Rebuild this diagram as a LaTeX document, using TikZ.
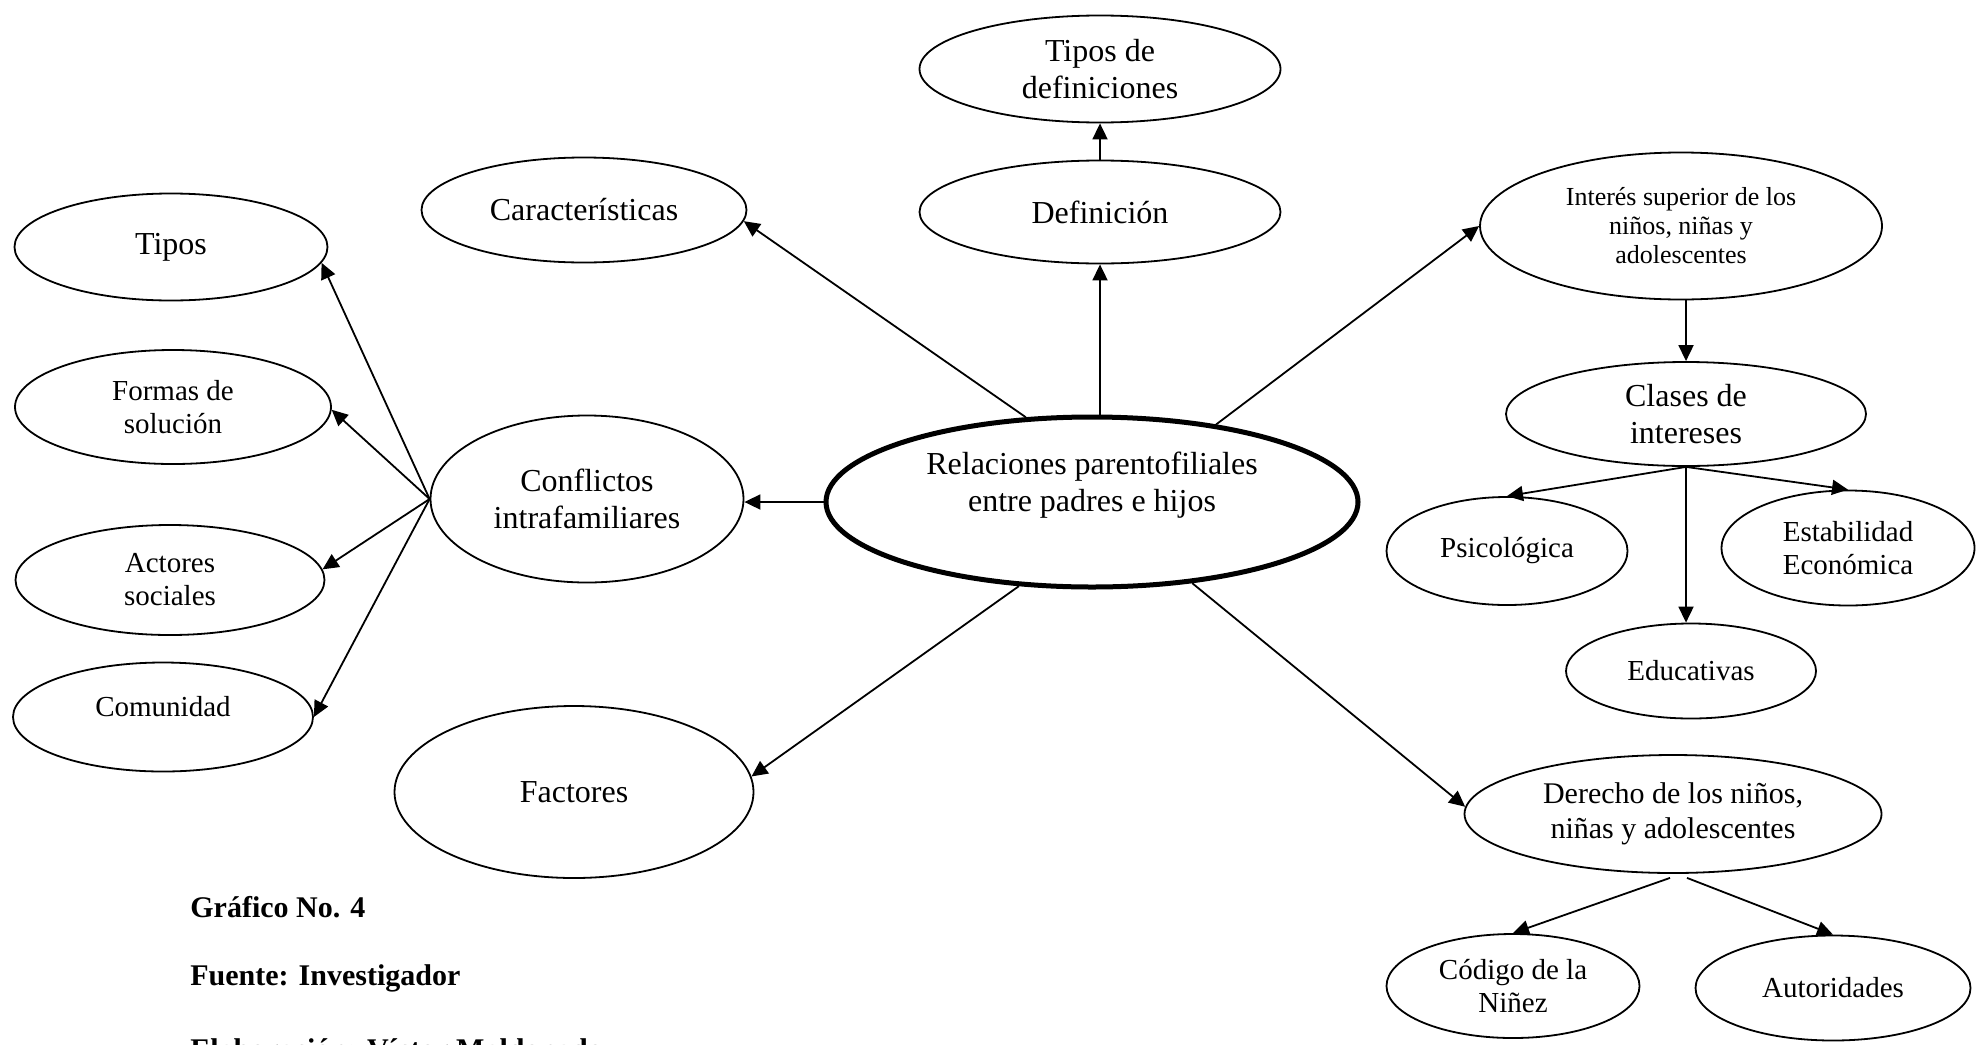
\documentclass[tikz,border=0pt]{standalone}
\usepackage{fontspec}
\setmainfont{Liberation Serif}
\usetikzlibrary{shapes.geometric,arrows.meta,calc}
\tikzset{
  ell/.style={ellipse, draw, line width=0.9pt, inner sep=0pt, align=center,
    font=\fontsize{16}{18.5}\selectfont},
  med/.style={font=\fontsize{14.5}{16.5}\selectfont},
  sml/.style={font=\fontsize{13}{14.5}\selectfont},
  arr/.style={-{Triangle[length=8pt,width=7.5pt]}, line width=0.9pt},
  captext/.style={anchor=west, inner sep=0pt, font=\fontsize{15}{17}\selectfont\bfseries},
}
\begin{document}
\begin{tikzpicture}[x=0.5pt,y=-0.5pt]
\useasboundingbox (0,0) rectangle (1984,1044);
% nodes
\node[ell, minimum width=180.5pt, minimum height=53.5pt] (tdef) at (1100,69) {Tipos de\\definiciones};
\node[ell, minimum width=180.5pt, minimum height=51.5pt] (def) at (1100,212) {Definición};
\node[ell, minimum width=162.5pt, minimum height=52.5pt] (car) at (584,210) {Características};
\node[ell, minimum width=156.5pt, minimum height=53.5pt] (tipos) at (171,247) {Tipos};
\node[ell, med, minimum width=158pt, minimum height=57pt] (formas) at (173,407) {Formas de\\solución};
\node[ell, med, minimum width=154.5pt, minimum height=55pt] (actores) at (170,580) {Actores\\sociales};
\node[ell, med, minimum width=150pt, minimum height=54.5pt] (comun) at (163,717) {\raisebox{5pt}[\height][\depth]{Comunidad}};
\node[ell, minimum width=156.5pt, minimum height=83.5pt] (conf) at (587,499) {Conflictos\\intrafamiliares};
\node[ell, line width=2.5pt, minimum width=266pt, minimum height=85pt] (rel) at (1092,502)
  {\raisebox{8pt}[\height][\depth]{\begin{tabular}{@{}c@{}}Relaciones parentofiliales\\entre padres e hijos\end{tabular}}};
\node[ell, minimum width=179.5pt, minimum height=86pt] (fact) at (574,792) {Factores};
\node[ell, sml, minimum width=201pt, minimum height=73.5pt] (inter) at (1681,226) {Interés superior de los\\niños, niñas y\\adolescentes};
\node[ell, minimum width=180pt, minimum height=52pt] (clases) at (1686,414) {Clases de\\intereses};
\node[ell, med, minimum width=120.5pt, minimum height=54pt] (psic) at (1507,551) {Psicológica};
\node[ell, med, minimum width=126.5pt, minimum height=57.5pt] (estab) at (1848,548) {Estabilidad\\Económica};
\node[ell, med, minimum width=125pt, minimum height=47.5pt] (educ) at (1691,671) {Educativas};
\node[ell, font=\fontsize{15}{17.5}\selectfont, minimum width=208.5pt, minimum height=59pt] (der) at (1673,814) {Derecho de los niños,\\niñas y adolescentes};
\node[ell, med, minimum width=126.5pt, minimum height=52pt] (cod) at (1513,986) {Código de la\\Niñez};
\node[ell, med, minimum width=137.5pt, minimum height=52.5pt] (aut) at (1833,988) {Autoridades};
% captions
\node[captext] (g4) at (190,907) {Gráfico No. 4};
\node[captext] (fu) at (190,978) {Fuente: Investigador};
\node[captext] (el) at (190,1049) {Elaboración: Víctor Maldonado};
% connectors
\draw[arr] (rel.128) -- (car.-4);
\draw[arr] (def.south |- rel.north) -- (def.south);
\draw[arr] (def.north) -- (tdef.south);
\draw[arr] (rel.west) -- (rel.west -| conf.east);
\draw[arr] (rel.32) -- (inter.west);
\draw[arr] (rel.229) -- (fact.5);
\draw[arr] (rel.-39) -- (der.178);
\draw[arr] (conf.west) -- (tipos.-6);
\draw[arr] (conf.west) -- (formas.-1);
\draw[arr] (conf.west) -- (actores.4);
\draw[arr] (conf.west) -- (comun.east);
\draw[arr] (clases.north |- inter.south) -- (clases.north);
\draw[arr] (clases.south) -- (psic.north);
\draw[arr] (clases.south) -- (estab.north);
\draw[arr] (clases.south) -- (clases.south |- educ.north);
\coordinate (dl) at ([xshift=-1.5pt,yshift=-2pt]der.south);
\coordinate (dr) at ([xshift=7pt,yshift=-2pt]der.south);
\draw[arr] (dl) -- (cod.north);
\draw[arr] (dr) -- (aut.north);
\end{tikzpicture}
\end{document}
